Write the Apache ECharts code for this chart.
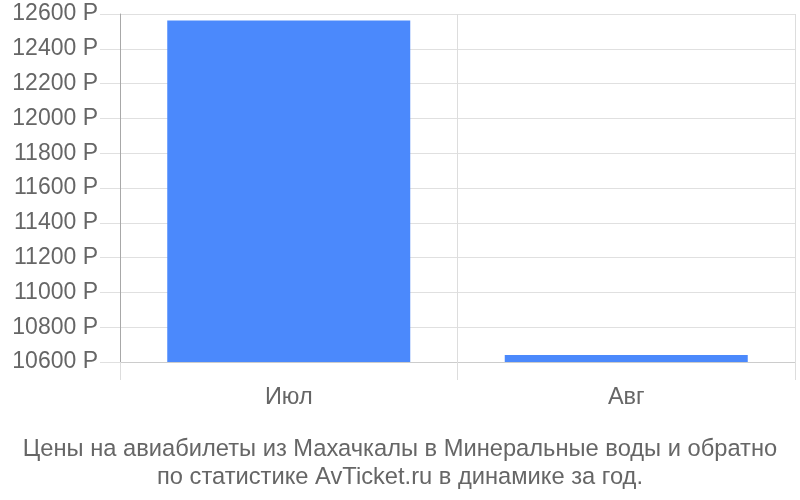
<!DOCTYPE html>
<html><head><meta charset="utf-8">
<script src="https://cdn.jsdelivr.net/npm/echarts@6/dist/echarts.min.js"></script>
<style>html,body{margin:0;padding:0;background:#fff}#c{width:800px;height:500px}</style>
</head><body><div id="c"></div>
<script>
const categories = ['Июл', 'Авг'];
const prices = [12562, 10640];
const yTicksMin = 10600, yTicksMax = 12600, yStep = 200;
const titleLines = ['Цены на авиабилеты из Махачкалы в Минеральные воды и обратно', 'по статистике AvTicket.ru в динамике за год.'];

const chart = echarts.init(document.getElementById('c'));
const font = 'Liberation Sans, Arial, sans-serif';
const gridColors = ['#cccccc'].concat(Array(10).fill('#e0e0e0'));
chart.setOption({
  animation: false,
  title: {
    text: titleLines.join('\n'),
    left: 'center', bottom: 4,
    textStyle: { fontFamily: font, fontSize: 23.7, fontWeight: 'normal', color: '#666', lineHeight: 28 }
  },
  grid: { left: 120, right: 5, top: 14, bottom: 138 },
  xAxis: {
    type: 'category', data: categories, offset: 18,
    axisLine: { show: false },
    axisTick: { show: true, inside: true, length: 18, lineStyle: { color: '#dddddd' } },
    splitLine: { show: true, lineStyle: { color: '#dddddd' } },
    axisLabel: { fontFamily: font, fontSize: 23.5, color: '#666', margin: 6 }
  },
  yAxis: {
    type: 'value', min: yTicksMin, max: yTicksMax, interval: yStep,
    axisLine: { show: true, lineStyle: { color: '#a8a8a8' } },
    axisTick: { show: true, length: 20, lineStyle: { color: '#e0e0e0' } },
    splitLine: { lineStyle: { color: gridColors } },
    axisLabel: { formatter: v => v + ' Р', fontFamily: font, fontSize: 23, color: '#666', margin: 22 }
  },
  series: [{
    type: 'bar', data: prices, barWidth: '72%',
    itemStyle: { color: '#4b89fc' }
  }]
});
</script></body></html>
